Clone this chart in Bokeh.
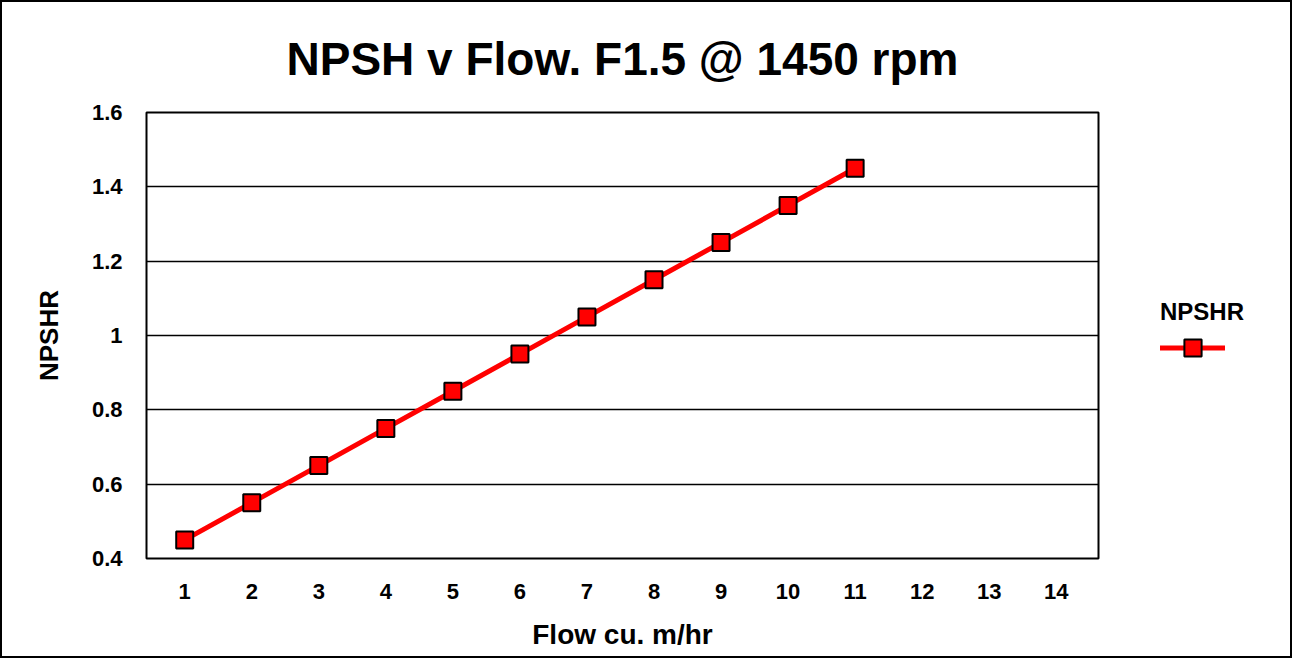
from bokeh.plotting import figure
from bokeh.models import FixedTicker, Legend, LegendItem, Range1d
from bokeh.embed import file_html
from bokeh.resources import INLINE

# ---- data ----
flow = [1, 2, 3, 4, 5, 6, 7, 8, 9, 10, 11]
npshr = [0.45, 0.55, 0.65, 0.75, 0.85, 0.95, 1.05, 1.15, 1.25, 1.35, 1.45]
x_ticks = [1, 2, 3, 4, 5, 6, 7, 8, 9, 10, 11, 12, 13, 14]
y_ticks = [0.4, 0.6, 0.8, 1.0, 1.2, 1.4, 1.6]
y_tick_labels = ["0.4", "0.6", "0.8", "1", "1.2", "1.4", "1.6"]
title_text = "NPSH v Flow. F1.5 @ 1450 rpm"
x_title = "Flow cu. m/hr"
y_title = "NPSHR"
series_name = "NPSHR"

FONT = "Liberation Sans"

p = figure(
    frame_width=952, frame_height=446,
    output_backend="svg", toolbar_location=None,
    x_range=Range1d(0.43, 14.63), y_range=Range1d(0.4, 1.6),
    min_border_left=144, min_border_right=0,
    min_border_top=110, min_border_bottom=102,
    title=title_text,
)
p.styles = {"border": "2px solid black", "width": "1292px", "height": "658px",
            "max-width": "1292px", "overflow": "hidden"}
p.background_fill_color = "white"
p.border_fill_color = "white"
p.outline_line_color = "black"
p.outline_line_width = 2

p.title.text_font = FONT
p.title.text_font_style = "bold"
p.title.text_font_size = "46px"
p.title.text_color = "black"
p.title.align = "center"
p.title.standoff = 56

# grid
p.xgrid.visible = False
p.ygrid.ticker = FixedTicker(ticks=y_ticks)
p.ygrid.grid_line_color = "black"
p.ygrid.grid_line_width = 1.4

# axes
for ax in (p.xaxis[0], p.yaxis[0]):
    ax.axis_line_color = None
    ax.major_tick_line_color = None
    ax.minor_tick_line_color = None
    ax.major_label_text_font = FONT
    ax.major_label_text_font_style = "bold"
    ax.major_label_text_font_size = "22px"
    ax.major_label_text_color = "black"
    ax.axis_label_text_font = FONT
    ax.axis_label_text_font_style = "bold"
    ax.axis_label_text_color = "black"

p.xaxis.ticker = FixedTicker(ticks=x_ticks)
p.xaxis.axis_label = x_title
p.xaxis.axis_label_text_font_size = "28px"
p.xaxis.major_label_standoff = 19
p.xaxis.axis_label_standoff = 17

p.yaxis.ticker = FixedTicker(ticks=y_ticks)
p.yaxis.major_label_overrides = {v: s for v, s in zip(y_ticks, y_tick_labels)}
p.yaxis.axis_label = y_title
p.yaxis.axis_label_text_font_size = "26px"
p.yaxis.major_label_standoff = 18
p.yaxis.axis_label_standoff = 25

ln = p.line(flow, npshr, line_color="#ff0000", line_width=5, line_cap="round")
sc = p.scatter(flow, npshr, marker="square", size=17, fill_color="#ff0000",
               line_color="black", line_width=2)

legend = Legend(
    items=[LegendItem(label=" ", renderers=[ln, sc])],
    title=series_name,
    location=(62, 189),
    margin=0, padding=0, spacing=0,
    glyph_width=65, glyph_height=43,
    label_standoff=0, label_width=0,
    border_line_color=None, background_fill_alpha=0,
    title_text_font=FONT, title_text_font_style="bold",
    title_text_font_size="24px", title_text_color="black",
    title_standoff=-23,
    label_text_font_size="10px",
)
p.add_layout(legend, "right")

open("out.html", "w").write(file_html(p, INLINE))
